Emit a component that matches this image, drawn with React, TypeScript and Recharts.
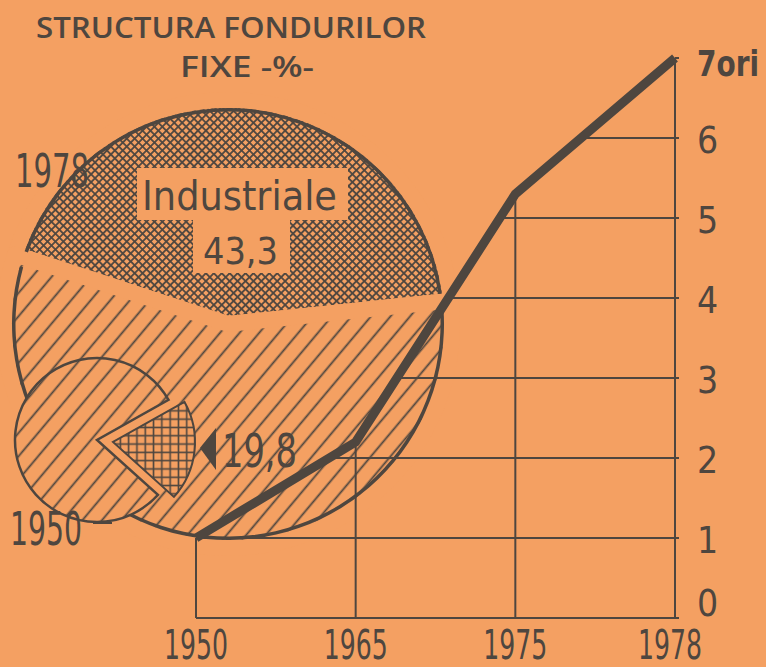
import React from "react";
import { LineChart, Line, XAxis, YAxis, ReferenceLine, PieChart, Pie, Cell } from "recharts";

// cresterea fondurilor fixe (ori fata de 1950)
const years = ["1950", "1965", "1975", "1978"];
const growth = [1, 2.2, 5.3, 7];
const yTicks = [0, 1, 2, 3, 4, 5, 6, 7];
const yTickLabels = ["0", "1", "2", "3", "4", "5", "6", "7ori"];

// structura fondurilor fixe, %
const sectors = ["Industriale", "Alte ramuri"];
const share1978 = [43.3, 56.7];
const share1950 = [19.8, 80.2];

const BG = "#F4A062";
const INK = "#4E463F";
const NARROW = '"Liberation Sans Narrow", "DejaVu Sans Condensed", "Roboto Condensed", Roboto, sans-serif';

const rows = years.map((year, i) => ({ idx: i, year, growth: growth[i] }));
const pie1978 = sectors.map((name, i) => ({ name, value: share1978[i] }));
const pie1950 = sectors.map((name, i) => ({ name, value: share1950[i] }));

// grid only below the curve: horizontal lines start where the curve crosses them
const hLines = yTicks
  .filter((k) => k > 0 && k < 7)
  .map((k) => {
    let i = 0;
    while (i < growth.length - 2 && growth[i + 1] < k) i++;
    const x = i + (k - growth[i]) / (growth[i + 1] - growth[i]);
    return { k, x: Math.max(0, x) };
  });

const XTick = ({ x, y, payload }: any) => (
  <text
    x={payload.value === 3 ? x - 5 : x}
    y={y + 33}
    textAnchor="middle"
    fill={INK}
    fontFamily={NARROW}
    fontSize={40}
    textLength={64}
    lengthAdjust="spacingAndGlyphs"
  >
    {years[payload.value]}
  </text>
);

const YTick = ({ x, y, payload }: any) => {
  const v = payload.value;
  const dy = v === 0 ? -15 : v === 7 ? 5 : 2;
  return (
    <text
      x={x}
      y={y + dy + 13}
      textAnchor="start"
      fill={INK}
      fontFamily={NARROW}
      fontSize={v === 7 ? 35 : 37}
      fontWeight={v === 7 ? 600 : 400}
      textLength={v === 7 ? 62 : undefined}
      lengthAdjust="spacingAndGlyphs"
    >
      {yTickLabels[v]}
    </text>
  );
};

const layer: React.CSSProperties = { position: "absolute", left: 0, top: 0 };

export default function App() {
  return (
    <div style={{ position: "absolute", left: 0, top: 0, width: 766, height: 667, background: BG, overflow: "hidden" }}>
      <svg width={0} height={0} style={{ position: "absolute" }}>
        <defs>
          <pattern id="hatch" patternUnits="userSpaceOnUse" width={15} height={15} patternTransform="rotate(40)">
            <rect width={15} height={15} fill={BG} />
            <line x1={7.5} y1={0} x2={7.5} y2={15} stroke={INK} strokeWidth={1.8} />
          </pattern>
          <pattern id="cross" patternUnits="userSpaceOnUse" width={5.6} height={5.6} patternTransform="rotate(45)">
            <rect width={5.6} height={5.6} fill={BG} />
            <line x1={2.8} y1={0} x2={2.8} y2={5.6} stroke={INK} strokeWidth={1.8} />
            <line x1={0} y1={2.8} x2={5.6} y2={2.8} stroke={INK} strokeWidth={1.8} />
          </pattern>
          <pattern id="grid" patternUnits="userSpaceOnUse" width={8.3} height={8.3}>
            <rect width={8.3} height={8.3} fill={BG} />
            <line x1={4.15} y1={0} x2={4.15} y2={8.3} stroke={INK} strokeWidth={1.6} />
            <line x1={0} y1={4.15} x2={8.3} y2={4.15} stroke={INK} strokeWidth={1.6} />
          </pattern>
        </defs>
      </svg>

      <div style={layer}>
        <PieChart width={766} height={667} margin={{ top: 0, right: 0, bottom: 0, left: 0 }}>
          {/* 1978 */}
          <Pie
            data={pie1978}
            dataKey="value"
            nameKey="name"
            cx={228}
            cy={324}
            outerRadius={224}
            startAngle={6}
            endAngle={366}
            stroke={BG}
            strokeWidth={16}
            strokeLinejoin="round"
            isAnimationActive={false}
          >
            <Cell fill="url(#cross)" />
            <Cell fill="url(#hatch)" />
          </Pie>
          <Pie
            data={pie1978}
            dataKey="value"
            nameKey="name"
            cx={228}
            cy={324}
            innerRadius={212.5}
            outerRadius={216}
            startAngle={8.1}
            endAngle={368.1}
            paddingAngle={4.2}
            fill={INK}
            stroke="none"
            isAnimationActive={false}
          />
          {/* 1950 */}
          <Pie
            data={pie1950}
            dataKey="value"
            nameKey="name"
            cx={97}
            cy={440}
            outerRadius={82}
            startAngle={-42}
            endAngle={318}
            isAnimationActive={false}
          >
            <Cell fill={BG} stroke="none" />
            <Cell fill="url(#hatch)" stroke={INK} strokeWidth={2.5} />
          </Pie>
          <Pie
            data={pie1950}
            dataKey="value"
            nameKey="name"
            cx={113}
            cy={442}
            outerRadius={82}
            startAngle={-42}
            endAngle={318}
            isAnimationActive={false}
          >
            <Cell fill="url(#grid)" stroke={INK} strokeWidth={2} />
            <Cell fill="none" stroke="none" />
          </Pie>
        </PieChart>
      </div>

      <svg width={766} height={667} style={layer}>
        <text x={231} y={38} textAnchor="middle" fill={INK} fontFamily='"Open Sans", sans-serif' fontWeight={600} fontSize={29} textLength={390} lengthAdjust="spacingAndGlyphs">
          STRUCTURA FONDURILOR
        </text>
        <text x={247} y={77} textAnchor="middle" fill={INK} fontFamily='"Open Sans", sans-serif' fontWeight={600} fontSize={29} textLength={134} lengthAdjust="spacingAndGlyphs">
          FIXE -%-
        </text>
        <text x={15} y={187} fill={INK} fontFamily={NARROW} fontSize={46} textLength={74} lengthAdjust="spacingAndGlyphs">
          1978
        </text>
        <text x={10} y={545} fill={INK} fontFamily={NARROW} fontSize={46} textLength={72} lengthAdjust="spacingAndGlyphs">
          1950
        </text>
        <line x1={93} y1={523} x2={112} y2={523} stroke={INK} strokeWidth={2} />
        <rect x={137} y={168} width={211} height={52} fill={BG} />
        <rect x={193} y={220} width={97} height={53} fill={BG} />
        <text x={142} y={210} fill={INK} fontFamily={NARROW} fontSize={41} textLength={195} lengthAdjust="spacingAndGlyphs">
          Industriale
        </text>
        <text x={203} y={264} fill={INK} fontFamily={NARROW} fontSize={38} textLength={75} lengthAdjust="spacingAndGlyphs">
          43,3
        </text>
        <polygon points="200,448 216,428 216,470" fill={INK} />
        <text x={222} y={467} fill={INK} fontFamily={NARROW} fontSize={46} textLength={75} lengthAdjust="spacingAndGlyphs">
          19,8
        </text>
      </svg>

      <div style={layer}>
        <LineChart width={766} height={667} data={rows} margin={{ top: 58, right: 11, bottom: 9, left: 196 }}>
          <XAxis
            type="number"
            dataKey="idx"
            domain={[0, 3]}
            ticks={[0, 1, 2, 3]}
            interval={0}
            height={40}
            axisLine={{ stroke: INK, strokeWidth: 2 }}
            tickLine={false}
            tick={<XTick />}
          />
          <YAxis
            orientation="right"
            type="number"
            domain={[0, 7]}
            ticks={yTicks}
            interval={0}
            width={80}
            axisLine={{ stroke: INK, strokeWidth: 2 }}
            tickLine={{ stroke: INK, strokeWidth: 2 }}
            tickSize={4}
            tickMargin={18}
            tick={<YTick />}
          />
          {rows.slice(0, 3).map((r) => (
            <ReferenceLine
              key={"v" + r.idx}
              segment={[{ x: r.idx, y: 0 }, { x: r.idx, y: r.growth }]}
              stroke={INK}
              strokeWidth={2}
            />
          ))}
          {hLines.map((h) => (
            <ReferenceLine
              key={"h" + h.k}
              segment={[{ x: h.x, y: h.k }, { x: 3, y: h.k }]}
              stroke={INK}
              strokeWidth={2}
            />
          ))}
          <Line
            type="linear"
            dataKey="growth"
            stroke={INK}
            strokeWidth={9}
            strokeLinejoin="miter"
            dot={false}
            isAnimationActive={false}
          />
        </LineChart>
      </div>
    </div>
  );
}
